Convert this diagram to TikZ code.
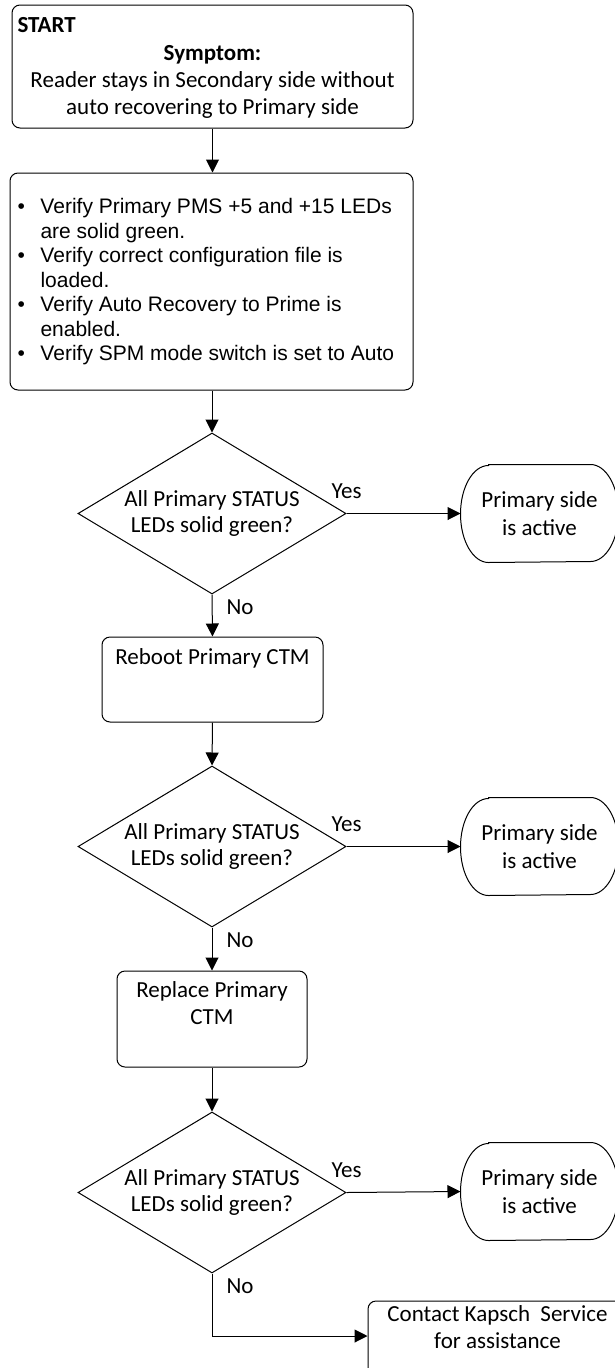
\documentclass[tikz,border=0pt]{standalone}
\usepackage{fontspec}
\setmainfont{Carlito}
\newfontfamily\arialf{Liberation Sans}
\usetikzlibrary{shapes.geometric,arrows.meta}
\newcommand\bl{\makebox[23pt][l]{•}}
\newcommand\nb{\makebox[23pt]{}}
\newcommand\termshape[1]{\draw ([xshift=28pt]#1.north west) -- ([xshift=-28pt]#1.north east) arc[start angle=90,end angle=-90,x radius=28pt,y radius=48.5pt] -- ([xshift=28pt]#1.south west) arc[start angle=270,end angle=90,x radius=28pt,y radius=48.5pt] -- cycle;}
\begin{document}
\begin{tikzpicture}[x=1pt,y=-1pt,line width=1pt,
  every node/.style={inner sep=0pt},
  txt/.style={font=\fontsize{23}{27}\selectfont, align=center},
  boxn/.style={draw, rounded corners=8pt},
  dec/.style={draw, diamond, aspect=1.66, minimum width=268pt, minimum height=161pt, font=\fontsize{23}{26}\selectfont, align=center},
  term/.style={minimum width=157pt, minimum height=97pt, font=\fontsize{23}{28}\selectfont, align=center},
  arr/.style={-{Triangle[length=13pt,width=13pt]}},
  lab/.style={font=\fontsize{23}{27}\selectfont, anchor=base west}
]
\useasboundingbox (0,0) rectangle (615,1368);

% START box
\node[boxn, minimum width=401pt, minimum height=123pt] (start) at (212.5,66.5) {};
\node[font=\fontsize{23}{27}\selectfont\bfseries, anchor=base west] (starttxt) at (17,32) {START};
\node[txt, anchor=north] (symp) at (212.5,45) {\textbf{Symptom:}\\Reader stays in Secondary side without\\auto recovering to Primary side};

% Verify box
\node[boxn, minimum width=403pt, minimum height=217pt] (verify) at (211.5,281.5) {};
\node[anchor=north west, align=left, font=\arialf\fontsize{21}{24.5}\selectfont] (bul) at (17,198)
 {\bl Verify Primary PMS +5 and +15 LEDs\\\nb are solid green.\\\bl Verify correct configuration file is\\\nb loaded.\\\bl Verify Auto Recovery to Prime is\\\nb enabled.\\\bl Verify SPM mode switch is set to Auto};

% decisions
\node[dec] (d1) at (212,513.5) {All Primary STATUS\\LEDs solid green?};
\node[dec] (d2) at (212,846.5) {All Primary STATUS\\LEDs solid green?};
\node[dec] (d3) at (212,1192.5) {All Primary STATUS\\LEDs solid green?};

% terminals
\node[term] (t1) at (539.5,513.5) {Primary side\\is active};
\node[term] (t2) at (539.5,846.5) {Primary side\\is active};
\node[term] (t3) at (539.5,1191.5) {Primary side\\is active};
\termshape{t1}
\termshape{t2}
\termshape{t3}

% process boxes
\node[boxn, minimum width=221pt, minimum height=85pt] (reboot) at (212.5,679.5) {};
\node[txt, anchor=base] (reboottxt) at (212.5,664) {Reboot Primary CTM};
\node[boxn, minimum width=190pt, minimum height=96pt] (replace) at (212,1019) {};
\node[txt, anchor=north] (replacetxt) at (212,981) {Replace Primary\\CTM};
\node[boxn, minimum width=259pt, minimum height=79pt] (contact) at (497.5,1340.5) {};
\node[txt, anchor=north] (contacttxt) at (497.5,1305) {Contact Kapsch\ \ Service\\for assistance};
\coordinate (cin) at ([yshift=4.5pt]contact.west);

% connectors
\draw[arr] (start.south) -- (start.south |- verify.north);
\draw[arr] (d1.north |- verify.south) -- (d1.north);
\draw[arr] (d1.east) -- (t1.west);
\draw[arr] (d1.south) -- (reboot.north);
\draw[arr] (reboot.south) -- (d2.north);
\draw[arr] (d2.east) -- (t2.west);
\draw[arr] (d2.south) -- (replace.north);
\draw[arr] (replace.south) -- (d3.north);
\draw[arr] (d3.east) -- (t3.west);
\draw[arr] (d3.south) |- (cin);

% labels
\node[lab] (y1) at (331,498.5) {Yes};
\node[lab] (y2) at (331,831.5) {Yes};
\node[lab] (y3) at (331,1177.5) {Yes};
\node[lab] (n1) at (226,614) {No};
\node[lab] (n2) at (226,947) {No};
\node[lab] (n3) at (226,1293) {No};
\end{tikzpicture}
\end{document}
